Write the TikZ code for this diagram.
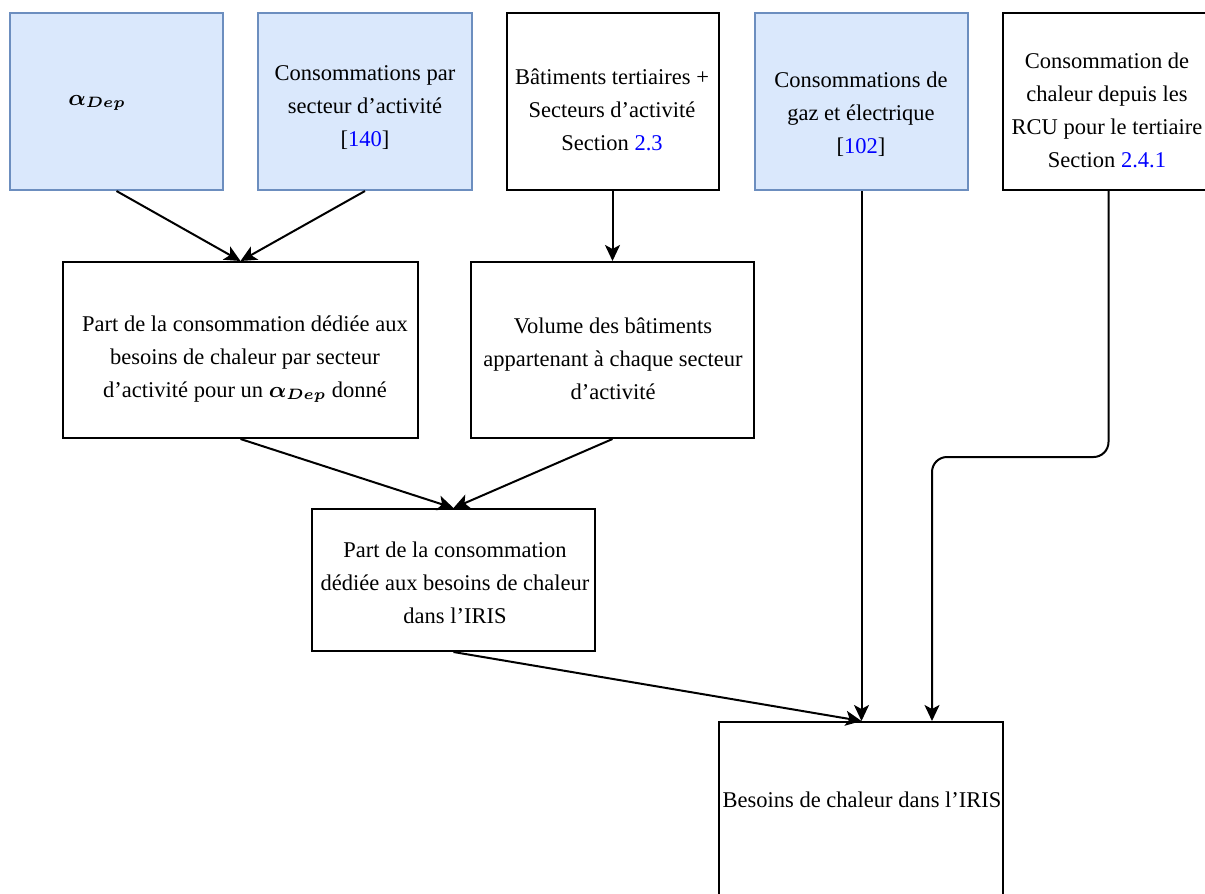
\documentclass[tikz,border=0pt]{standalone}
\usepackage{amsmath,bm}
\usepackage{fontspec}
\setmainfont{Liberation Serif}
\usepackage{tikz}
\usetikzlibrary{arrows.meta}
\definecolor{drwfill}{RGB}{218,232,252}
\definecolor{drwedge}{RGB}{108,142,191}
\definecolor{lnk}{RGB}{0,0,255}
\newcommand{\cit}[1]{[\textcolor{lnk}{#1}]}
\newcommand{\sect}[1]{Section \textcolor{lnk}{#1}}
\newcommand{\aDep}{$\bm{\alpha_{Dep}}$}
\tikzset{
  wht/.style={draw=black, line width=0.8pt, inner sep=0pt},
  blu/.style={wht, draw=drwedge, fill=drwfill},
  txt/.style={align=center, inner sep=0pt, font=\fontsize{9}{13.2}\selectfont},
  arr/.style={-{Stealth[length=6.4pt, width=6pt, inset=1.6pt]}, line width=0.8pt},
}

\begin{document}
\begin{tikzpicture}[x=0.4pt, y=-0.4pt]
  \useasboundingbox (0,0) rectangle (1205,893);

  % inputs
  \node[blu, minimum width=85.2pt, minimum height=70.8pt] (alpha) at (116.5,101.5) {};
  \node[txt] (alpha-t) at (97,103) {\aDep};
  \node[blu, minimum width=85.6pt, minimum height=70.8pt] (cons) at (365,101.5) {};
  \node[txt] (cons-t) at (365,108) {Consommations par\\secteur d'activit\'e\\\cit{140}};
  \node[wht, minimum width=84.8pt, minimum height=70.8pt] (bat) at (612.5,101.5) {};
  \node[txt] (bat-t) at (612,110) {B\^atiments tertiaires +\\Secteurs d'activit\'e\\\sect{2.3}};
  \node[blu, minimum width=85.2pt, minimum height=70.8pt] (gaz) at (861.5,101.5) {};
  \node[txt] (gaz-t) at (861,114) {Consommations de\\gaz et \'electrique\\\cit{102}};
  \node[wht, minimum width=84.4pt, minimum height=70.8pt] (rcu) at (1108.5,101.5) {};
  \node[txt] (rcu-t) at (1107,110) {Consommation de\\chaleur depuis les\\RCU pour le tertiaire\\\sect{2.4.1}};

  % intermediate
  \node[wht, minimum width=142pt, minimum height=70.4pt] (part) at (240.5,350) {};
  \node[txt] (part-t) at (245,359) {Part de la consommation d\'edi\'ee aux\\besoins de chaleur par secteur\\d'activit\'e pour un \aDep{} donn\'e};
  \node[wht, minimum width=113.2pt, minimum height=70.4pt] (vol) at (612.5,350) {};
  \node[txt] (vol-t) at (613,359) {Volume des b\^atiments\\appartenant \`a chaque secteur\\d'activit\'e};
  \node[wht, minimum width=113.2pt, minimum height=56.8pt] (iris) at (453.5,580) {};
  \node[txt] (iris-t) at (455,583) {Part de la consommation\\d\'edi\'ee aux besoins de chaleur\\dans l'IRIS};

  % result
  \node[wht, minimum width=113.6pt, minimum height=72pt] (bes) at (861,812) {};
  \node[txt] (bes-t) at (862,800) {Besoins de chaleur dans l'IRIS};

  \draw[arr] (alpha.south) -- (part.north);
  \draw[arr] (cons.south) -- (part.north);
  \draw[arr] (bat.south) -- (vol.north);
  \draw[arr] (part.south) -- (iris.north);
  \draw[arr] (vol.south) -- (iris.north);
  \draw[arr] (iris.south) -- (gaz.south |- bes.north);
  \draw[arr] (gaz.south) -- (gaz.south |- bes.north);
  \coordinate (knee) at (932,457);
  \draw[arr, rounded corners=6pt] (rcu.south) |- (knee) -- (knee |- bes.north);
\end{tikzpicture}
\end{document}
